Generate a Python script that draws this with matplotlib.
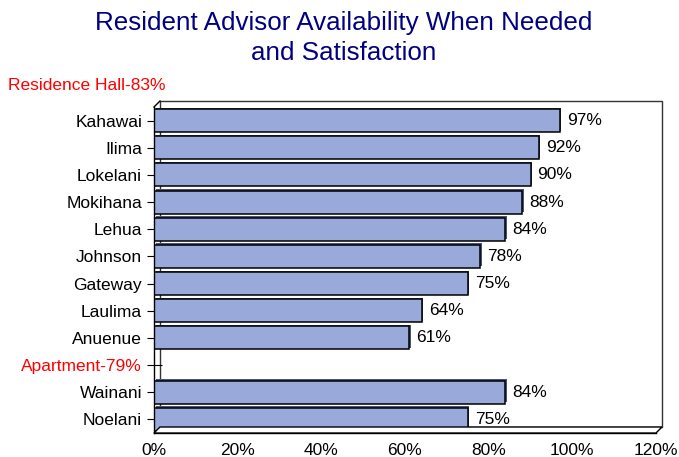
import matplotlib
matplotlib.use('Agg')
import matplotlib.pyplot as plt
import matplotlib.transforms as mtransforms
from matplotlib.patches import Rectangle, Polygon
from matplotlib.lines import Line2D

plt.rcParams['font.family'] = ['Liberation Sans', 'DejaVu Sans']

# satisfaction by hall, the apartment group header has no bar of its own
halls = ['Kahawai', 'Ilima', 'Lokelani', 'Mokihana', 'Lehua', 'Johnson',
         'Gateway', 'Laulima', 'Anuenue', 'Apartment-79%', 'Wainani', 'Noelani']
satisfaction = [97, 92, 90, 88, 84, 78, 75, 64, 61, 0, 84, 75]
group_rows = ['Apartment-79%']
residence_note = 'Residence Hall-83%'
x_ticks = [0, 20, 40, 60, 80, 100, 120]

title = 'Resident Advisor Availability When Needed\nand Satisfaction'

W, H = 679, 457
fig = plt.figure(figsize=(W / 100, H / 100), dpi=100)
fig.patch.set_facecolor('white')

# front plane of the 3d box in pixels
left, right, top, bottom = 154, 656, 107, 433
ax = fig.add_axes([left / W, (H - bottom) / H, (right - left) / W, (bottom - top) / H])
ax.patch.set_visible(False)

depth = mtransforms.ScaledTranslation(0.06, 0.06, fig.dpi_scale_trans)
back = ax.transAxes + depth

# back wall and floor
ax.add_patch(Rectangle((0, 0), 1, 1, transform=back, facecolor='white',
                       edgecolor='#333333', lw=1.0, zorder=0, clip_on=False))
fx0, fy0 = ax.transAxes.transform((0, 0))
fx1, fy1 = ax.transAxes.transform((1, 0))
bx0, by0 = back.transform((0, 0))
bx1, by1 = back.transform((1, 0))
floor = Polygon([[fx0, fy0], [fx1, fy1], [bx1, by1], [bx0, by0]], closed=True,
                transform=None, facecolor='white', edgecolor='black', lw=1.0,
                zorder=0.5, clip_on=False)
fig.patches.append(floor)
tx0, ty0 = ax.transAxes.transform((0, 1))
btx, bty = back.transform((0, 1))
fig.lines.append(Line2D([tx0, btx], [ty0, bty], transform=None, color='black', lw=1.0))

ypos = list(range(len(halls)))
bar_h = 0.85
shadow = ax.transData + mtransforms.ScaledTranslation(0.015, 0.015, fig.dpi_scale_trans)
ax.barh(ypos, satisfaction, height=bar_h, color='#4a5378', transform=shadow, zorder=1.5)
bars = ax.barh(ypos, satisfaction, height=bar_h, color='#99a9d9',
               edgecolor='black', lw=1.1, zorder=2)

for y, v, name in zip(ypos, satisfaction, halls):
    if name in group_rows:
        continue
    ax.annotate(f'{v}%', (v, y), xytext=(5, 0), textcoords='offset points',
                ha='left', va='center', fontsize=12.5, color='black')

ax.set_xlim(0, 120)
ax.set_ylim(len(halls) - 0.5, -0.5)
ax.set_xticks(x_ticks)
ax.set_xticklabels([f'{t}%' for t in x_ticks], fontsize=12.5)
ax.set_yticks(ypos)
ax.set_yticklabels(halls, fontsize=12.5)
for lab in ax.get_yticklabels():
    if lab.get_text() in group_rows:
        lab.set_color('red')
ax.tick_params(axis='x', length=0, pad=7)
ax.tick_params(axis='y', direction='inout', length=10.8, width=0.8, pad=3.2)
for s in ['top', 'right']:
    ax.spines[s].set_visible(False)
ax.spines['left'].set_linewidth(1.0)
ax.spines['bottom'].set_linewidth(1.0)

fig.text(8 / W, 1 - 85 / H, residence_note, color='red', fontsize=12.5,
         ha='left', va='center')
fig.text(344 / W, 1 - 11 / H, title, color='#000080', fontsize=18.7,
         ha='center', va='top', linespacing=1.32)

fig.savefig('out.png', dpi=100)
